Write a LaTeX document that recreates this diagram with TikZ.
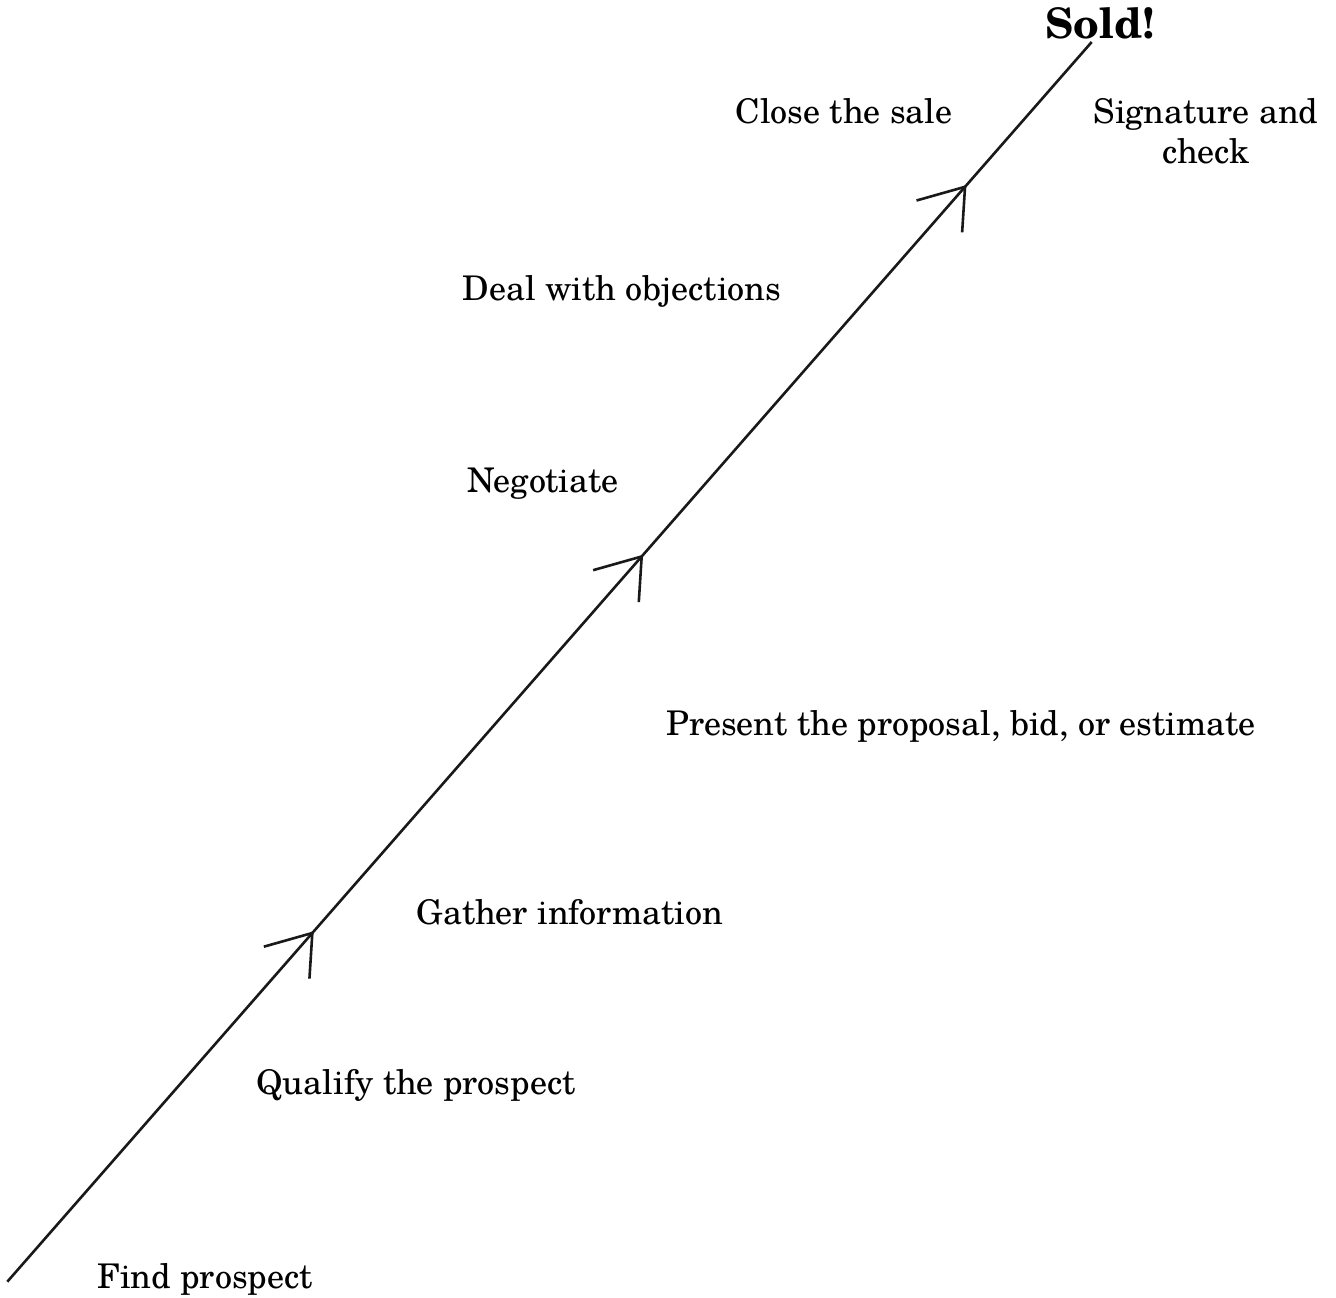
\documentclass[tikz,border=0pt]{standalone}
\usepackage{fontspec}
\setmainfont{TeX Gyre Schola}
\usetikzlibrary{calc}
\tikzset{
  lbl/.style={anchor=base, inner sep=0pt, font=\fontsize{34}{40}\selectfont},
  track/.style={line width=2.6pt, black!90},
}
\begin{document}
\begin{tikzpicture}[x=1pt,y=-1pt]
\useasboundingbox (0,0) rectangle (1336,1298);
\coordinate (A) at (7.3,1281.7);
\coordinate (B) at (1091.7,42);
\draw[track] (A) -- (B);
\coordinate (T1) at ($(A)!0.2813!(B)$);
\coordinate (T2) at ($(A)!0.5850!(B)$);
\coordinate (T3) at ($(A)!0.8832!(B)$);
\foreach \t in {T1,T2,T3}{
  \draw[track, line join=miter] (\t) ++(-48.5,13.7) -- (\t) -- ++(-2.9,45.6);
}
\node[anchor=base, inner sep=0pt, font=\fontsize{42}{48}\selectfont\bfseries] (sold) at (1100,39) {Sold!};
\node[lbl] (close) at (844,123) {Close the sale};
\node[lbl, align=center] (sig) at (1206,163) {Signature and\\check};
\node[lbl] (deal) at (622,300) {Deal with objections};
\node[lbl] (neg) at (543,492) {Negotiate};
\node[lbl] (pres) at (961,735) {Present the proposal, bid, or estimate};
\node[lbl] (gath) at (570,924) {Gather information};
\node[lbl] (qual) at (416,1094) {Qualify the prospect};
\node[lbl] (find) at (205,1288) {Find prospect};
\end{tikzpicture}
\end{document}
